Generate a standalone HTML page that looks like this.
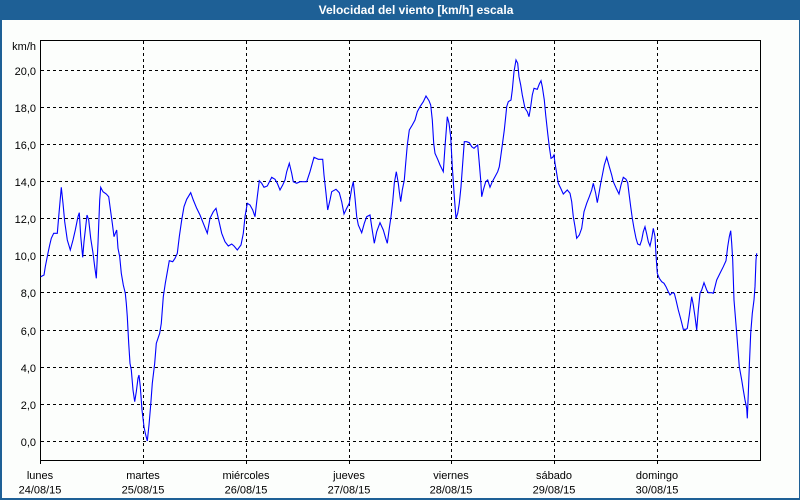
<!DOCTYPE html>
<html><head><meta charset="utf-8"><style>
html,body{margin:0;padding:0;background:#fcfefc;}
svg{display:block;}
text{font-family:"Liberation Sans",Arial,sans-serif;}
</style></head><body>
<svg width="800" height="500" viewBox="0 0 800 500" xmlns="http://www.w3.org/2000/svg">
<rect x="0" y="0" width="800" height="500" fill="#fcfefc"/>
<!-- frame -->
<rect x="0" y="0" width="800" height="20" fill="#1e6096"/>
<rect x="0" y="0" width="2" height="500" fill="#1e6096"/>
<rect x="799" y="0" width="1" height="500" fill="#1e6096"/>
<rect x="0" y="498" width="800" height="2" fill="#1e6096"/>
<text x="416" y="14" fill="#ffffff" font-size="12" font-weight="bold" text-anchor="middle">Velocidad del viento [km/h] escala</text>

<!-- grid horizontal -->
<g stroke="#000" stroke-width="1" stroke-dasharray="3,3" shape-rendering="crispEdges" fill="none">
<line x1="41" y1="70.5" x2="760" y2="70.5"/>
<line x1="41" y1="107.5" x2="760" y2="107.5"/>
<line x1="41" y1="144.5" x2="760" y2="144.5"/>
<line x1="41" y1="181.5" x2="760" y2="181.5"/>
<line x1="41" y1="218.5" x2="760" y2="218.5"/>
<line x1="41" y1="255.5" x2="760" y2="255.5"/>
<line x1="41" y1="292.5" x2="760" y2="292.5"/>
<line x1="41" y1="330.5" x2="760" y2="330.5"/>
<line x1="41" y1="367.5" x2="760" y2="367.5"/>
<line x1="41" y1="404.5" x2="760" y2="404.5"/>
<line x1="41" y1="441.5" x2="760" y2="441.5"/>
<line x1="143.5" y1="41" x2="143.5" y2="460"/>
<line x1="246.5" y1="41" x2="246.5" y2="460"/>
<line x1="349.5" y1="41" x2="349.5" y2="460"/>
<line x1="451.5" y1="41" x2="451.5" y2="460"/>
<line x1="554.5" y1="41" x2="554.5" y2="460"/>
<line x1="657.5" y1="41" x2="657.5" y2="460"/>
</g>
<!-- axes box -->
<g stroke="#000" stroke-width="1" shape-rendering="crispEdges" fill="none">
<rect x="40.5" y="40.5" width="720" height="420"/>
<line x1="40.5" y1="460" x2="40.5" y2="464"/>
<line x1="143.5" y1="460" x2="143.5" y2="464"/>
<line x1="246.5" y1="460" x2="246.5" y2="464"/>
<line x1="349.5" y1="460" x2="349.5" y2="464"/>
<line x1="451.5" y1="460" x2="451.5" y2="464"/>
<line x1="554.5" y1="460" x2="554.5" y2="464"/>
<line x1="657.5" y1="460" x2="657.5" y2="464"/>
</g>

<!-- y labels -->
<g font-size="11" fill="#000" text-anchor="end">
<text x="36" y="50">km/h</text>
<text x="36" y="75">20,0</text>
<text x="36" y="112">18,0</text>
<text x="36" y="149">16,0</text>
<text x="36" y="186">14,0</text>
<text x="36" y="223">12,0</text>
<text x="36" y="260">10,0</text>
<text x="36" y="297">8,0</text>
<text x="36" y="335">6,0</text>
<text x="36" y="372">4,0</text>
<text x="36" y="409">2,0</text>
<text x="36" y="446">0,0</text>
</g>
<!-- x labels -->
<g font-size="11" fill="#000" text-anchor="middle">
<text x="40" y="479">lunes</text><text x="40" y="493.5">24/08/15</text>
<text x="143" y="479">martes</text><text x="143" y="493.5">25/08/15</text>
<text x="246" y="479">miércoles</text><text x="246" y="493.5">26/08/15</text>
<text x="349" y="479">jueves</text><text x="349" y="493.5">27/08/15</text>
<text x="451" y="479">viernes</text><text x="451" y="493.5">28/08/15</text>
<text x="554" y="479">sábado</text><text x="554" y="493.5">29/08/15</text>
<text x="657" y="479">domingo</text><text x="657" y="493.5">30/08/15</text>
</g>

<!-- data -->
<polyline fill="none" stroke="#0000ff" stroke-width="1.1" stroke-linejoin="miter" points="
40.7,276.7 44,275 45.3,266.7 48,253 49.7,245 51.3,238.3 53.7,233.3 57.3,233.3 58.7,216.7 61.3,187.3 63,203.3 64.7,221.7 67.3,240 70.3,250 73,240 75.3,230 78,216.7 79.3,212.7 80.7,236 82.7,257.3 84,241.7 87,215 88.7,220 90.7,238.3 93,253 94.7,266.7 96.3,278.3 98,243 99.7,200 100.7,187.3 103,191.7 106.3,194 108.7,196.7 110.7,211.7 112.3,223.3 114,236.7 115.3,233.3 116.7,230 118,248.3 119.7,256.7 121.3,273.3 123.3,285 125.3,293.3 126.3,303.3 127.3,316.7 128.7,343.3 130,363.3 131.3,370 133,390 134.7,401.7 136.3,391.7 138,378.3 139,375 140.3,386.7 142,410 144,426.7 145.3,433.3 147.3,441 149,425 150.7,405 152.3,383.3 154.7,363.3 156.3,343.3 158,338.3 159.7,333.3 161.3,323.3 163.3,296.7 165.3,283.3 167.3,272 169.3,260.7 172.7,261.7 175,258.3 177.3,253.3 179.3,236.7 181.7,220 184,206.7 186.7,199.3 190.7,192.7 193.3,200 196.7,208.3 200,215 203.3,223.3 207.3,233.3 210,218.3 213.3,211.7 216,208.3 218.3,218.3 221.7,233.3 225,241.7 228.3,246 231.7,244 234,246 237.3,250 241,245 243.3,233.3 245,216.7 247.3,203.3 250,205 252.7,210 255,216.7 257.3,196.7 259.3,180.7 261.7,183.3 264,187.3 267.3,186 271.7,177.3 275,179.3 277.3,183.3 280,190 282.7,185 285,180 286.7,171.7 289.3,163.3 291.7,173.3 293.3,181.7 296.7,183.3 300,181.7 306.7,181.7 310,171.7 314,157.3 318.3,159.3 322.7,159.3 324,175 326,193.3 327.7,210 330,200 331.7,191.7 336,189.3 339.3,192.7 341.7,201.7 344,214 346.7,208.3 349.3,203.3 351.7,188.3 353.3,181.7 355,198 356.7,216.7 358.3,225 361.7,232.7 364.3,223.3 366.7,216.7 370,215 371.7,226.7 374.3,243.3 376.7,231.7 380,222.7 383.3,230 385.7,238.3 387.3,243.3 389.3,228.3 391,216.7 392.7,201.7 394.3,183.3 396.3,171.7 398.3,183.3 399.3,191.7 400.7,201.7 402.3,190 404.3,180 405.7,163.3 407.3,145 409.3,130 412.3,125 415,120 417.3,111.7 420,106.7 423.3,101.7 426,96 429,100.7 430.7,105 432.3,120 433.7,143.3 435,153.3 437.7,159.3 440,165 443.3,171.7 445,146.7 447.3,116.7 449,123.3 450.7,136.7 452.3,166.7 454.3,196.7 456,218.3 457.7,213.3 459.3,203.3 461,186.7 462.7,163.3 464.3,141.7 466.7,141.7 469.3,142.7 471.7,146.7 474,148.3 475.7,146.7 477.7,145 479.3,163.3 480.7,180 481.7,196.7 483.3,190 485.7,181.7 487.7,180 490,187.3 492.3,181.7 495,176.7 497.7,171.7 499.3,166.7 500.7,156.7 502.3,145 504.3,130 505.7,116.7 506.7,106.7 508.3,101.7 511,100 512.3,90 514,71.7 516,60 517.7,63.3 519,76.7 520.7,85 522.3,95 525,108.3 527.3,111.7 529,116.7 530.7,106.7 532.3,95 534,88.3 537.3,89.3 539.3,84 541,80.7 542.3,86.7 544.3,100 545.7,115 547.7,133.3 549.3,146.7 551,158.3 552.7,157.3 554,155 555,163.3 556.7,173.3 558.3,183.3 560.7,188.3 563.3,194 567.3,190 570,193.3 571.7,201.7 573.3,216.7 575,226.7 576.7,238.3 579.3,235 581.7,228.3 584,211.7 586.7,203.3 589.3,196.7 591.7,190 593.3,183.3 595.7,193.3 597.3,202.7 599,193.3 600.7,183.3 602.7,173.3 604.3,165 606.7,157.3 609.3,166.7 611.7,175 613.3,181.7 616.7,189.3 619,194 621,185 623.3,177.3 626,179.3 627.7,182.7 629,193.3 630.7,206.7 632.3,218.3 634,228.3 636,238.3 637.7,244 640,245 641.7,240 643.3,231.7 645,226.7 646.7,234 648.3,241.7 650,246 651.7,238.3 653.3,228.3 655,236.7 656,255 657.3,273.3 659.3,278.3 661.7,281.7 664,283.3 666,286.7 668.3,291.7 670,295 672.3,292.7 674.3,293.3 676,300 678.3,310 681,320 683.3,329.3 686,329.3 687.3,328.3 689.3,315 691.7,296.7 693.3,305 695,316.7 696.7,330 698.3,310 700,293.3 701.7,290 704,282.7 706.7,290 708.3,292.7 711.7,292.7 713.3,293.3 715,286.7 716.7,280 720,273.3 723.3,266.7 726,260.7 727.7,246.7 729.3,236.7 730.7,230.7 731.7,243.3 732.7,260 734,300 736.7,333.3 739.3,366.7 741.7,380 743.3,390 745,400 746.7,408.3 747.3,418.3 748.3,393.3 749.3,366.7 750.7,333.3 752.3,313.3 754,300 755,286.7 756,260 756.7,253.3"/>
</svg>
</body></html>
